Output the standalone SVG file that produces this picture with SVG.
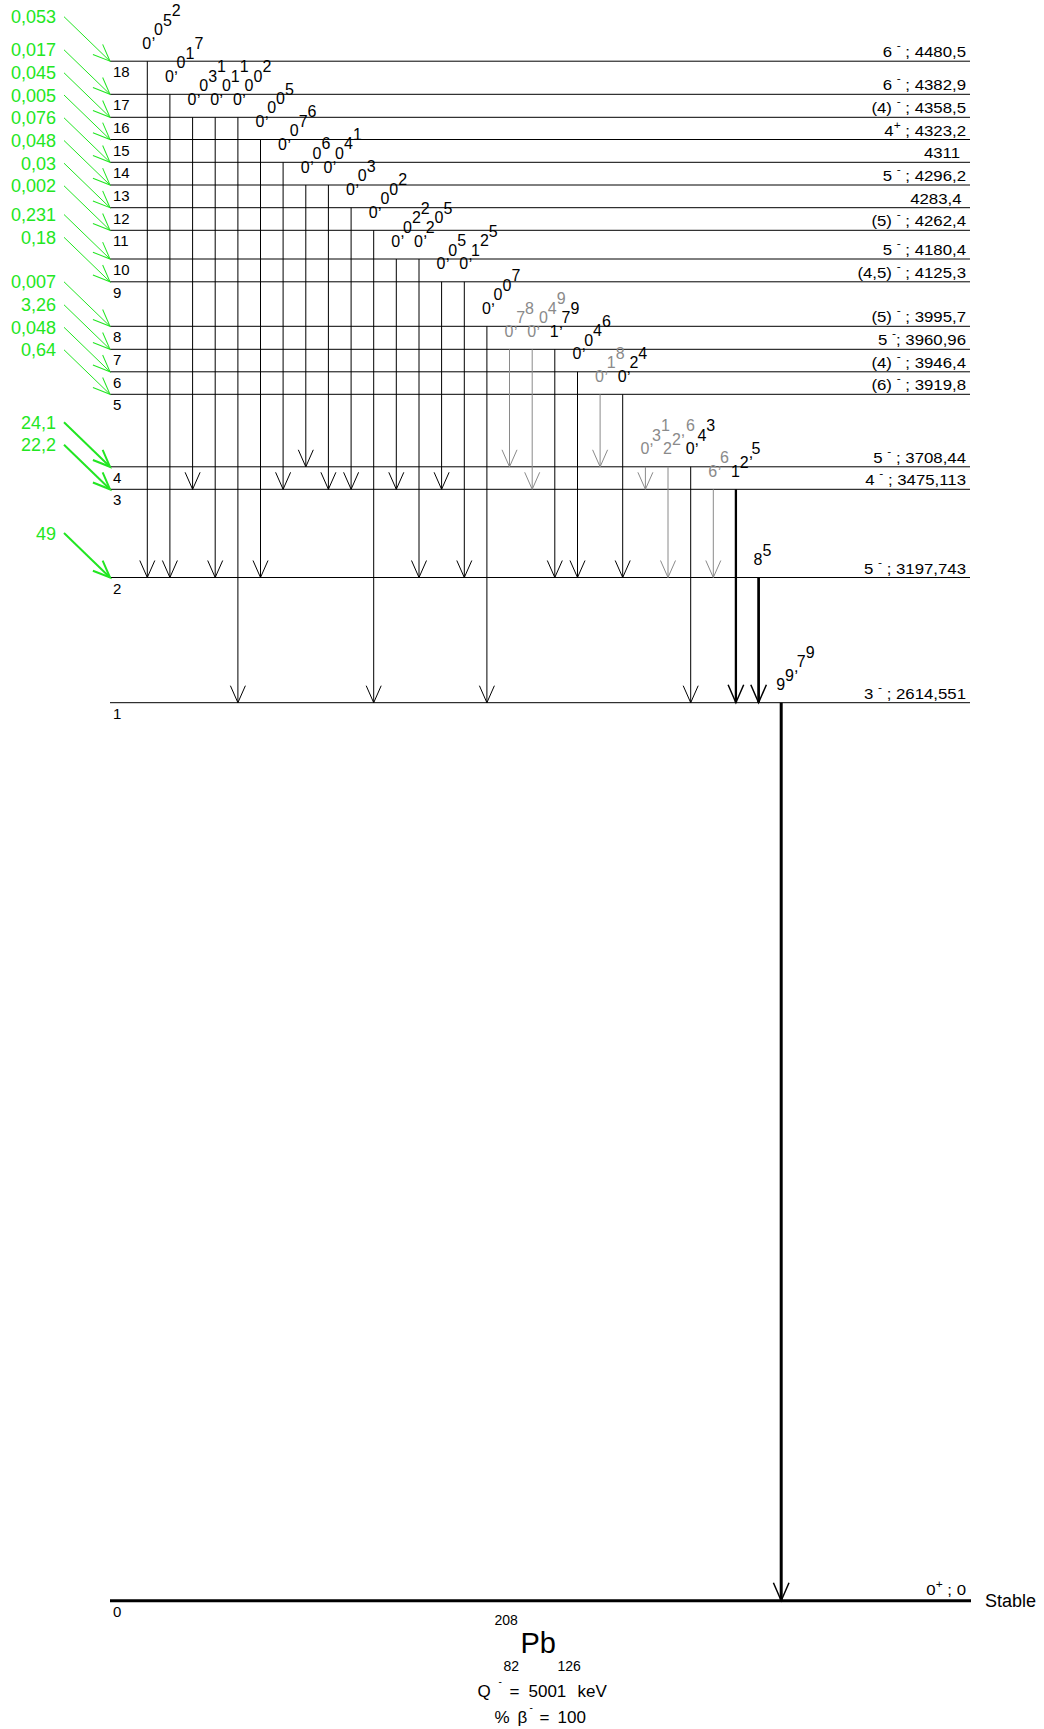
<svg xmlns="http://www.w3.org/2000/svg" width="1044" height="1729" viewBox="0 0 1044 1729">
<defs>
<style>
text{font-family:"Liberation Sans",Arial,sans-serif;fill:#000}
.lv{stroke:#000;stroke-width:1;fill:none}
.gm{stroke:#000;stroke-width:1;fill:none;marker-end:url(#ab)}
.gy{stroke:#8a8a8a;stroke-width:1;fill:none;marker-end:url(#ag)}
.tk{stroke:#000;fill:none;marker-end:url(#at)}
.fa{stroke:#22e622;stroke-width:1;fill:none;marker-end:url(#af)}
.fa2{stroke:#22e622;stroke-width:2;fill:none;marker-end:url(#af2)}
.gl{font-size:16px}
.gl.g{fill:#8a8a8a}
.num{font-size:15px}
.en{font-size:14px;text-anchor:end}
.sup{font-size:10px}
.fe{font-size:18px;fill:#22e622;text-anchor:end}
</style>
<marker id="ab" markerUnits="userSpaceOnUse" markerWidth="20" markerHeight="20" orient="auto" overflow="visible"><path d="M-17,-7.5 L0,0 L-17,7.5" fill="none" stroke="#000" stroke-width="1"/></marker>
<marker id="ag" markerUnits="userSpaceOnUse" markerWidth="20" markerHeight="20" orient="auto" overflow="visible"><path d="M-17,-7.5 L0,0 L-17,7.5" fill="none" stroke="#8a8a8a" stroke-width="1"/></marker>
<marker id="at" markerUnits="userSpaceOnUse" markerWidth="20" markerHeight="20" orient="auto" overflow="visible"><path d="M-18,-7.8 L0,0 L-18,7.8" fill="none" stroke="#000" stroke-width="1.5"/></marker>
<marker id="af" markerUnits="userSpaceOnUse" markerWidth="20" markerHeight="20" orient="auto" overflow="visible"><path d="M-17,-7 L0,0 L-17,7" fill="none" stroke="#22e622" stroke-width="1"/></marker>
<marker id="af2" markerUnits="userSpaceOnUse" markerWidth="20" markerHeight="20" orient="auto" overflow="visible"><path d="M-17,-7 L0,0 L-17,7" fill="none" stroke="#22e622" stroke-width="2"/></marker>
</defs>
<rect width="1044" height="1729" fill="#fff"/>

<g id="levels">
<g id="L18"><line class="lv" x1="110" y1="61.2" x2="970" y2="61.2"/><text class="num" x="113" y="77.2">18</text><text class="en" transform="translate(966,57.2) scale(1.2,1)">6 <tspan class="sup" dy="-8">-</tspan><tspan dy="8"> ; 4480,5</tspan></text></g>
<g id="L17"><line class="lv" x1="110" y1="94.3" x2="970" y2="94.3"/><text class="num" x="113" y="110.3">17</text><text class="en" transform="translate(966,90.3) scale(1.2,1)">6 <tspan class="sup" dy="-8">-</tspan><tspan dy="8"> ; 4382,9</tspan></text></g>
<g id="L16"><line class="lv" x1="110" y1="117.3" x2="970" y2="117.3"/><text class="num" x="113" y="133.3">16</text><text class="en" transform="translate(966,113.3) scale(1.2,1)">(4) <tspan class="sup" dy="-8">-</tspan><tspan dy="8"> ; 4358,5</tspan></text></g>
<g id="L15"><line class="lv" x1="110" y1="139.5" x2="970" y2="139.5"/><text class="num" x="113" y="155.5">15</text><text class="en" transform="translate(966,135.5) scale(1.2,1)">4<tspan class="sup" dy="-7">+</tspan><tspan dy="7"> ; 4323,2</tspan></text></g>
<g id="L14"><line class="lv" x1="110" y1="162.3" x2="970" y2="162.3"/><text class="num" x="113" y="178.3">14</text><text class="en" transform="translate(960,158.3) scale(1.2,1)">4311</text></g>
<g id="L13"><line class="lv" x1="110" y1="185" x2="970" y2="185"/><text class="num" x="113" y="201">13</text><text class="en" transform="translate(966,181) scale(1.2,1)">5 <tspan class="sup" dy="-8">-</tspan><tspan dy="8"> ; 4296,2</tspan></text></g>
<g id="L12"><line class="lv" x1="110" y1="207.7" x2="970" y2="207.7"/><text class="num" x="113" y="223.7">12</text><text class="en" transform="translate(961.5,203.7) scale(1.2,1)">4283,4</text></g>
<g id="L11"><line class="lv" x1="110" y1="230.3" x2="970" y2="230.3"/><text class="num" x="113" y="246.3">11</text><text class="en" transform="translate(966,226.3) scale(1.2,1)">(5) <tspan class="sup" dy="-8">-</tspan><tspan dy="8"> ; 4262,4</tspan></text></g>
<g id="L10"><line class="lv" x1="110" y1="259" x2="970" y2="259"/><text class="num" x="113" y="275">10</text><text class="en" transform="translate(966,255) scale(1.2,1)">5 <tspan class="sup" dy="-8">-</tspan><tspan dy="8"> ; 4180,4</tspan></text></g>
<g id="L9"><line class="lv" x1="110" y1="281.8" x2="970" y2="281.8"/><text class="num" x="113" y="297.8">9</text><text class="en" transform="translate(966,277.8) scale(1.2,1)">(4,5) <tspan class="sup" dy="-8">-</tspan><tspan dy="8"> ; 4125,3</tspan></text></g>
<g id="L8"><line class="lv" x1="110" y1="326.3" x2="970" y2="326.3"/><text class="num" x="113" y="342.3">8</text><text class="en" transform="translate(966,322.3) scale(1.2,1)">(5) <tspan class="sup" dy="-8">-</tspan><tspan dy="8"> ; 3995,7</tspan></text></g>
<g id="L7"><line class="lv" x1="110" y1="349.3" x2="970" y2="349.3"/><text class="num" x="113" y="365.3">7</text><text class="en" transform="translate(966,345.3) scale(1.2,1)">5 <tspan class="sup" dy="-8">-</tspan><tspan dy="8">; 3960,96</tspan></text></g>
<g id="L6"><line class="lv" x1="110" y1="371.8" x2="970" y2="371.8"/><text class="num" x="113" y="387.8">6</text><text class="en" transform="translate(966,367.8) scale(1.2,1)">(4) <tspan class="sup" dy="-8">-</tspan><tspan dy="8"> ; 3946,4</tspan></text></g>
<g id="L5"><line class="lv" x1="110" y1="394.3" x2="970" y2="394.3"/><text class="num" x="113" y="410.3">5</text><text class="en" transform="translate(966,390.3) scale(1.2,1)">(6) <tspan class="sup" dy="-8">-</tspan><tspan dy="8"> ; 3919,8</tspan></text></g>
<g id="L4"><line class="lv" x1="110" y1="466.8" x2="970" y2="466.8"/><text class="num" x="113" y="482.8">4</text><text class="en" transform="translate(966,462.8) scale(1.2,1)">5 <tspan class="sup" dy="-8">-</tspan><tspan dy="8"> ; 3708,44</tspan></text></g>
<g id="L3"><line class="lv" x1="110" y1="489.3" x2="970" y2="489.3"/><text class="num" x="113" y="505.3">3</text><text class="en" transform="translate(966,485.3) scale(1.2,1)">4 <tspan class="sup" dy="-8">-</tspan><tspan dy="8"> ; 3475,113</tspan></text></g>
<g id="L2"><line class="lv" x1="110" y1="577.5" x2="970" y2="577.5"/><text class="num" x="113" y="593.5">2</text><text class="en" transform="translate(966,573.5) scale(1.2,1)">5 <tspan class="sup" dy="-8">-</tspan><tspan dy="8"> ; 3197,743</tspan></text></g>
<g id="L1"><line class="lv" x1="110" y1="702.7" x2="970" y2="702.7"/><text class="num" x="113" y="718.7">1</text><text class="en" transform="translate(966,698.7) scale(1.2,1)">3 <tspan class="sup" dy="-8">-</tspan><tspan dy="8"> ; 2614,551</tspan></text></g>
<g id="L0"><line x1="110" y1="1600.7" x2="971" y2="1600.7" stroke="#000" stroke-width="3"/><text class="num" x="113" y="1616.7">0</text><text class="en" transform="translate(966,1595) scale(1.2,1)">0<tspan class="sup" dy="-7">+</tspan><tspan dy="7"> ; 0</tspan></text><text x="985" y="1606.7" font-size="18">Stable</text></g>
</g>

<g id="feeding">
<line class="fa" x1="64" y1="16.7" x2="110" y2="61.2"/><text class="fe" x="56" y="23.2">0,053</text>
<line class="fa" x1="64" y1="49.8" x2="110" y2="94.3"/><text class="fe" x="56" y="56.3">0,017</text>
<line class="fa" x1="64" y1="72.8" x2="110" y2="117.3"/><text class="fe" x="56" y="79.3">0,045</text>
<line class="fa" x1="64" y1="95" x2="110" y2="139.5"/><text class="fe" x="56" y="101.5">0,005</text>
<line class="fa" x1="64" y1="117.8" x2="110" y2="162.3"/><text class="fe" x="56" y="124.3">0,076</text>
<line class="fa" x1="64" y1="140.5" x2="110" y2="185"/><text class="fe" x="56" y="147">0,048</text>
<line class="fa" x1="64" y1="163.2" x2="110" y2="207.7"/><text class="fe" x="56" y="169.7">0,03</text>
<line class="fa" x1="64" y1="185.8" x2="110" y2="230.3"/><text class="fe" x="56" y="192.3">0,002</text>
<line class="fa" x1="64" y1="214.5" x2="110" y2="259"/><text class="fe" x="56" y="221">0,231</text>
<line class="fa" x1="64" y1="237.3" x2="110" y2="281.8"/><text class="fe" x="56" y="243.8">0,18</text>
<line class="fa" x1="64" y1="281.8" x2="110" y2="326.3"/><text class="fe" x="56" y="288.3">0,007</text>
<line class="fa" x1="64" y1="304.8" x2="110" y2="349.3"/><text class="fe" x="56" y="311.3">3,26</text>
<line class="fa" x1="64" y1="327.3" x2="110" y2="371.8"/><text class="fe" x="56" y="333.8">0,048</text>
<line class="fa" x1="64" y1="349.8" x2="110" y2="394.3"/><text class="fe" x="56" y="356.3">0,64</text>
<line class="fa2" x1="64" y1="422.3" x2="110" y2="466.8"/><text class="fe" x="56" y="428.8">24,1</text>
<line class="fa2" x1="64" y1="444.8" x2="110" y2="489.3"/><text class="fe" x="56" y="451.3">22,2</text>
<line class="fa2" x1="64" y1="533" x2="110" y2="577.5"/><text class="fe" x="56" y="539.5">49</text>
</g>

<g id="transitions">
<line class="gm" x1="147.3" y1="61.2" x2="147.3" y2="577.5"/>
<line class="gm" x1="169.9" y1="94.3" x2="169.9" y2="577.5"/>
<line class="gm" x1="192.6" y1="117.3" x2="192.6" y2="489.3"/>
<line class="gm" x1="215.2" y1="117.3" x2="215.2" y2="577.5"/>
<line class="gm" x1="237.9" y1="117.3" x2="237.9" y2="702.7"/>
<line class="gm" x1="260.5" y1="139.5" x2="260.5" y2="577.5"/>
<line class="gm" x1="283.1" y1="162.3" x2="283.1" y2="489.3"/>
<line class="gm" x1="305.8" y1="185" x2="305.8" y2="466.8"/>
<line class="gm" x1="328.4" y1="185" x2="328.4" y2="489.3"/>
<line class="gm" x1="351.1" y1="207.7" x2="351.1" y2="489.3"/>
<line class="gm" x1="373.7" y1="230.3" x2="373.7" y2="702.7"/>
<line class="gm" x1="396.3" y1="259" x2="396.3" y2="489.3"/>
<line class="gm" x1="419" y1="259" x2="419" y2="577.5"/>
<line class="gm" x1="441.6" y1="281.8" x2="441.6" y2="489.3"/>
<line class="gm" x1="464.3" y1="281.8" x2="464.3" y2="577.5"/>
<line class="gm" x1="486.9" y1="326.3" x2="486.9" y2="702.7"/>
<line class="gy" x1="509.5" y1="349.3" x2="509.5" y2="466.8"/>
<line class="gy" x1="532.2" y1="349.3" x2="532.2" y2="489.3"/>
<line class="gm" x1="554.8" y1="349.3" x2="554.8" y2="577.5"/>
<line class="gm" x1="577.5" y1="371.8" x2="577.5" y2="577.5"/>
<line class="gy" x1="600.1" y1="394.3" x2="600.1" y2="466.8"/>
<line class="gm" x1="622.7" y1="394.3" x2="622.7" y2="577.5"/>
<line class="gy" x1="645.4" y1="466.8" x2="645.4" y2="489.3"/>
<line class="gy" x1="668" y1="466.8" x2="668" y2="577.5"/>
<line class="gm" x1="690.7" y1="466.8" x2="690.7" y2="702.7"/>
<line class="gy" x1="713.3" y1="489.3" x2="713.3" y2="577.5"/>
<line class="tk" stroke-width="2.3" x1="735.9" y1="489.3" x2="735.9" y2="702.7"/>
<line class="tk" stroke-width="2.7" x1="758.6" y1="577.5" x2="758.6" y2="702.7"/>
<line class="tk" stroke-width="3" x1="781.2" y1="702.7" x2="781.2" y2="1600.7"/>
</g>

<g id="gamma-labels">
<text class="gl" x="142.3 151.2 154 162.9 171.8" y="48.7 39.4 34.9 25.6 16.3">0,052</text>
<text class="gl" x="164.9 173.8 176.6 185.5 194.4" y="81.8 72.5 68 58.7 49.4">0,017</text>
<text class="gl" x="187.6 196.5 199.3 208.2 217.1" y="104.8 95.5 91 81.7 72.4">0,031</text>
<text class="gl" x="210.2 219.1 221.9 230.8 239.7" y="104.8 95.5 91 81.7 72.4">0,011</text>
<text class="gl" x="232.9 241.8 244.6 253.5 262.4" y="104.8 95.5 91 81.7 72.4">0,002</text>
<text class="gl" x="255.5 264.4 267.2 276.1 285" y="127 117.7 113.2 103.9 94.6">0,005</text>
<text class="gl" x="278.1 287 289.8 298.7 307.6" y="149.8 140.5 136 126.7 117.4">0,076</text>
<text class="gl" x="300.8 309.7 312.5 321.4" y="172.5 163.2 158.7 149.4">0,06</text>
<text class="gl" x="323.4 332.3 335.1 344 352.9" y="172.5 163.2 158.7 149.4 140.1">0,041</text>
<text class="gl" x="346.1 355 357.8 366.7" y="195.2 185.9 181.4 172.1">0,03</text>
<text class="gl" x="368.7 377.6 380.4 389.3 398.2" y="217.8 208.5 204 194.7 185.4">0,002</text>
<text class="gl" x="391.3 400.2 403 411.9 420.8" y="246.5 237.2 232.7 223.4 214.1">0,022</text>
<text class="gl" x="414 422.9 425.7 434.6 443.5" y="246.5 237.2 232.7 223.4 214.1">0,205</text>
<text class="gl" x="436.6 445.5 448.3 457.2" y="269.3 260 255.5 246.2">0,05</text>
<text class="gl" x="459.3 468.2 471 479.9 488.8" y="269.3 260 255.5 246.2 236.9">0,125</text>
<text class="gl" x="481.9 490.8 493.6 502.5 511.4" y="313.8 304.5 300 290.7 281.4">0,007</text>
<text class="gl g" x="504.5 513.4 516.2 525.1" y="336.8 327.5 323 313.7">0,78</text>
<text class="gl g" x="527.2 536.1 538.9 547.8 556.7" y="336.8 327.5 323 313.7 304.4">0,049</text>
<text class="gl" x="549.8 558.7 561.5 570.4" y="336.8 327.5 323 313.7">1,79</text>
<text class="gl" x="572.5 581.4 584.2 593.1 602" y="359.3 350 345.5 336.2 326.9">0,046</text>
<text class="gl g" x="595.1 604 606.8 615.7" y="381.8 372.5 368 358.7">0,18</text>
<text class="gl" x="617.7 626.6 629.4 638.3" y="381.8 372.5 368 358.7">0,24</text>
<text class="gl g" x="640.4 649.3 652.1 661" y="454.3 445 440.5 431.2">0,31</text>
<text class="gl g" x="663 671.9 680.8 686" y="454.3 445 435.7 431.2">22,6</text>
<text class="gl" x="685.7 694.6 697.4 706.3" y="454.3 445 440.5 431.2">0,43</text>
<text class="gl g" x="708.3 717.2 720" y="476.8 467.5 463">6,6</text>
<text class="gl" x="730.9 739.8 748.7 751.5" y="476.8 467.5 458.2 453.7">12,5</text>
<text class="gl" x="753.6 762.5" y="565 555.7">85</text>
<text class="gl" x="776.2 785.1 794 796.8 805.7" y="690.2 680.9 671.6 667.1 657.8">99,79</text>
</g>

<g id="nuclide">
<text x="494.5" y="1625" font-size="14">208</text>
<text x="520.5" y="1653.3" font-size="29">Pb</text>
<text x="503.5" y="1671" font-size="14">82</text>
<text x="557.5" y="1671" font-size="14">126</text>
<text x="477.5" y="1696.7" font-size="17">Q</text>
<text x="498.5" y="1685" font-size="10">-</text>
<text x="509.5" y="1696.7" font-size="17">=</text>
<text x="528.5" y="1696.7" font-size="17">5001</text>
<text x="577.5" y="1696.7" font-size="17">keV</text>
<text x="494.5" y="1723.3" font-size="17">%</text>
<text x="517.5" y="1723.3" font-size="17">β</text>
<text x="529.5" y="1711" font-size="10">-</text>
<text x="539.5" y="1723.3" font-size="17">=</text>
<text x="557.5" y="1723.3" font-size="17">100</text>
</g>
</svg>
